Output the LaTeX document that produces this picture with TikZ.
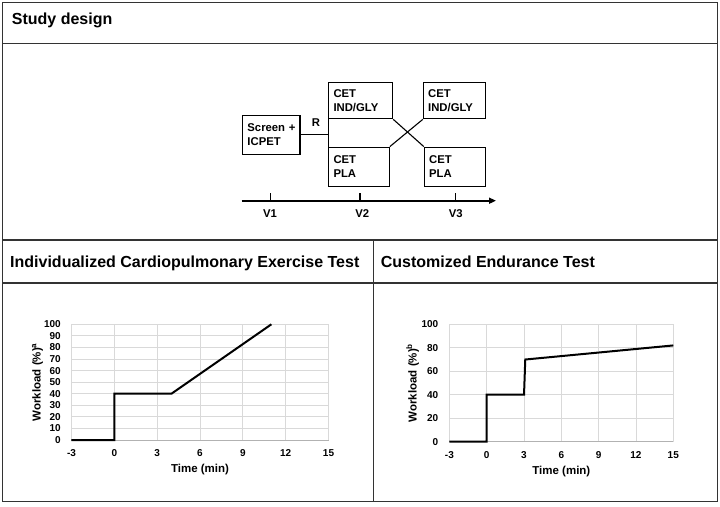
\documentclass[tikz,border=0pt]{standalone}
\usepackage{fontspec}
\setmainfont{Liberation Sans}
\usetikzlibrary{arrows.meta}
\begin{document}
\begin{tikzpicture}[x=1pt,y=-1pt,
  frameline/.style={draw=black!80, line width=1.3pt},
  titletext/.style={font=\fontsize{16}{19}\selectfont\bfseries, inner sep=0pt, anchor=base west},
  stagebox/.style={draw=black, line width=1.1pt, align=left, inner xsep=4.8pt, inner ysep=0pt,
    font=\fontsize{11.3}{14.5}\selectfont\bfseries},
  smalltext/.style={font=\fontsize{11.3}{14.5}\selectfont\bfseries, inner sep=0pt},
  link/.style={draw=black, line width=1.1pt},
  gridline/.style={draw=black!15, line width=0.8pt},
  axisline/.style={draw=black!30, line width=0.8pt},
  curve/.style={draw=black, line width=2pt, line join=miter},
  ticklab/.style={font=\fontsize{10}{12}\selectfont\bfseries, inner sep=0pt},
  axlab/.style={font=\fontsize{11.5}{14}\selectfont\bfseries, inner sep=0pt}
]
\useasboundingbox (0,0) rectangle (720,506);
\fill[white] (0,0) rectangle (720,506);

% frame
\draw[frameline] (2.5,2.5) rectangle (717.5,501.5);
\draw[frameline] (2.5,43.5) -- (717.5,43.5);
\draw[frameline] (2.5,240) -- (717.5,240);
\draw[frameline] (2.5,283) -- (717.5,283);
\draw[frameline] (373.3,240) -- (373.3,501.5);

% titles
\node[titletext] (tStudy) at (11.7,24) {Study design};
\node[titletext] (tICPET) at (10,267.7) {Individualized Cardiopulmonary Exercise Test};
\node[titletext] (tCET) at (380.7,267.7) {Customized Endurance Test};

% study design boxes
\node[stagebox, minimum width=57.3pt, minimum height=39pt, text width=47.7pt] (scr) at (271.3,134.8) {Screen~+\\ICPET};
\node[stagebox, minimum width=64pt, minimum height=36pt, text width=54.4pt] (cig1) at (360.7,100.8) {CET\\IND/GLY};
\node[stagebox, minimum width=60.6pt, minimum height=39.3pt, text width=51pt] (cpl1) at (359,166.8) {CET\\PLA};
\node[stagebox, minimum width=61.7pt, minimum height=36pt, text width=52.1pt] (cig2) at (454.2,100.8) {CET\\IND/GLY};
\node[stagebox, minimum width=60.7pt, minimum height=39.3pt, text width=51.1pt] (cpl2) at (454.7,166.8) {CET\\PLA};

\coordinate (rj) at (cig1.south west |- scr.east);
\draw[link] (scr.east) -- (rj);
\draw[link] (cig1.south west) -- (cpl1.north west);
\draw[link] (cig1.south east) -- (cpl2.north west);
\draw[link] (cpl1.north east) -- (cig2.south west);
\node[smalltext, anchor=base] (rlab) at (316,126.7) {R};

% timeline
\coordinate (tl0) at (241.7,200.7);
\coordinate (tl1) at (496,200.7);
\draw[line width=1.6pt, -{Triangle[length=7pt,width=6pt]}] (tl0) -- (tl1);
\coordinate (v1) at (270.7,200.7);
\coordinate (v2) at (360,200.7);
\coordinate (v3) at (455.3,200.7);
\foreach \c in {v1,v2,v3} \draw[line width=1.4pt] (\c) -- ++(0,-7.6);
\node[smalltext, anchor=base] (lv1) at (270,217.7) {V1};
\node[smalltext, anchor=base] (lv2) at (362.3,217.7) {V2};
\node[smalltext, anchor=base] (lv3) at (455.7,217.7) {V3};

% chart 1
\begin{scope}[shift={(114.3pt,-440pt)}, x=14.28pt, y=1.157pt]
  \foreach \v in {10,20,...,100} \draw[gridline] (-3,\v) -- (15,\v);
  \foreach \t in {-3,0,...,15} \draw[gridline] (\t,0) -- (\t,100);
  \draw[axisline] (-3,0) -- (15,0);
  \foreach \v in {0,10,...,100} \node[ticklab, anchor=east, xshift=-10.5pt] (ya\v) at (-3,\v) {\v};
  \foreach \t in {-3,0,...,15} \node[ticklab, anchor=base, yshift=-16.6pt] (xa\t) at (\t,0) {\t};
  \node[axlab, anchor=base, yshift=-32.5pt] (timeA) at (6,0) {Time (min)};
  \node[axlab, rotate=90] (workA) at (-5.38,50) {Workload (\%)\textsuperscript{a}};
  \draw[curve] (-3,0) -- (0,0) -- (0,40) -- (4,40) -- (11,100);
\end{scope}

% chart 2
\begin{scope}[shift={(486.7pt,-441.7pt)}, x=12.44pt, y=1.174pt]
  \foreach \v in {20,40,...,100} \draw[gridline] (-3,\v) -- (15,\v);
  \foreach \t in {-3,0,...,15} \draw[gridline] (\t,0) -- (\t,100);
  \draw[axisline] (-3,0) -- (15,0);
  \foreach \v in {0,20,...,100} \node[ticklab, anchor=east, xshift=-11pt] (yb\v) at (-3,\v) {\v};
  \foreach \t in {-3,0,...,15} \node[ticklab, anchor=base, yshift=-16.3pt] (xb\t) at (\t,0) {\t};
  \node[axlab, anchor=base, yshift=-32.5pt] (timeB) at (6,0) {Time (min)};
  \node[axlab, rotate=90] (workB) at (-5.95,50) {Workload (\%)\textsuperscript{b}};
  \draw[curve] (-3,0) -- (0,0) -- (0,40) -- (3,40) -- (3.1,70) -- (15,82);
\end{scope}
\end{tikzpicture}
\end{document}
